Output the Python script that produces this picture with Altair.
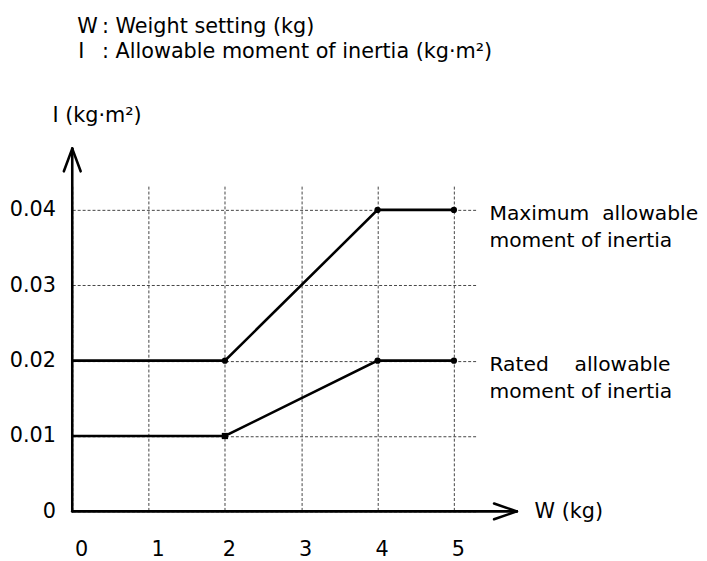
import altair as alt
import pandas as pd

FONT = "DejaVu Sans"

# ---- data ----
W = [0, 2, 4, 5]
I_MAX = [0.02, 0.02, 0.04, 0.04]
I_RATED = [0.01, 0.01, 0.02, 0.02]
SERIES = ["Maximum", "Rated"]
SERIES_LABELS = [
    ["Maximum\u00a0\u00a0allowable", "moment of inertia"],
    ["Rated\u00a0\u00a0\u00a0\u00a0allowable", "moment of inertia"],
]
MARKED_W = [2, 4, 5]
X_TICKS = [0, 1, 2, 3, 4, 5]
Y_TICKS = [0, 0.01, 0.02, 0.03, 0.04]

rows = []
for s, vals in zip(SERIES, [I_MAX, I_RATED]):
    for w, v in zip(W, vals):
        rows.append({"series": s, "W": w, "I": v})
df = pd.DataFrame(rows)
pts = df[df["W"].isin(MARKED_W)]
lab = pd.DataFrame({
    "series": SERIES,
    "W": [W[-1], W[-1]],
    "I": [I_MAX[-1], I_RATED[-1]],
    "label": SERIES_LABELS,
})

PLOT_W, PLOT_H = 410, 329
xscale = alt.Scale(domain=[0, 5.31], nice=False, zero=False)
yscale = alt.Scale(domain=[0, 0.04315], nice=False, zero=False)

x_axis = alt.Axis(
    values=X_TICKS, format="d", title=None, grid=True, domain=False, ticks=False,
    labelPadding=28, labelFontSize=21, labelFont=FONT, labelColor="black",
    labelFlush=False, labelOverlap=False,
    labelOffset={"condition": {"test": "datum.value <= 1", "value": 9}, "value": 4},
    gridDash=[3, 2], gridColor="#444444", gridWidth=1,
)
y_axis = alt.Axis(
    values=Y_TICKS, format=".2~f", title=None, grid=True, domain=False, ticks=False,
    labelPadding=17, labelFontSize=21, labelFont=FONT, labelColor="black",
    labelOverlap=False, labelFlush=False,
    gridDash=[3, 2], gridColor="#444444", gridWidth=1,
)

base = alt.Chart(df)

lines = base.mark_line(color="black", strokeWidth=2.6).encode(
    x=alt.X("W:Q", scale=xscale, axis=x_axis),
    y=alt.Y("I:Q", scale=yscale, axis=y_axis),
    detail="series:N",
)

points = alt.Chart(pts).mark_point(filled=True, size=40, color="black", opacity=1).encode(
    x=alt.X("W:Q", scale=xscale),
    y=alt.Y("I:Q", scale=yscale),
    shape=alt.condition("datum.series == 'Rated' && datum.W == 2",
                        alt.value("square"), alt.value("circle")),
)

labels = alt.Chart(lab).mark_text(
    align="left", baseline="alphabetic", dx=36, dy=10, lineHeight=28,
    fontSize=20.5, font=FONT, color="black",
).encode(
    x=alt.X("W:Q", scale=xscale),
    y=alt.Y("I:Q", scale=yscale),
    text="label",
)


def seg(x1, y1, x2, y2):
    return alt.Chart(pd.DataFrame({"k": [0]})).mark_rule(
        color="black", strokeWidth=2.6, strokeCap="round"
    ).encode(x=alt.value(x1), y=alt.value(y1), x2=alt.value(x2), y2=alt.value(y2))


def note(text, x, y, size=21, align="left"):
    return alt.Chart(pd.DataFrame({"t": [text]})).mark_text(
        align=align, baseline="middle", fontSize=size, font=FONT, color="black"
    ).encode(x=alt.value(x), y=alt.value(y), text="t:N")


decor = [
    seg(0, PLOT_H, 0, -38),
    seg(-8.5, -15, 0, -38),
    seg(8.5, -15, 0, -38),
    seg(0, PLOT_H, 449.7, PLOT_H),
    seg(426.7, PLOT_H - 8, 449.7, PLOT_H),
    seg(426.7, PLOT_H + 8, 449.7, PLOT_H),
    note("W (kg)", 467.7, PLOT_H + 1),
    note("I (kg\u00b7m\u00b2)", -20, -71),
    note("W", 5, -161),
    note(": Weight setting (kg)", 30, -161),
    note("I", 6, -136),
    note(": Allowable moment of inertia (kg\u00b7m\u00b2)", 30, -136),
]

chart = alt.layer(lines, points, labels, *decor).properties(
    width=PLOT_W, height=PLOT_H,
    background="white",
    autosize=alt.AutoSizeParams(type="none"),
    padding={"left": 65, "top": 177, "right": 224, "bottom": 47},
).configure_view(stroke=None)

chart.save("out.html", embed_options={"renderer": "svg", "actions": False})
